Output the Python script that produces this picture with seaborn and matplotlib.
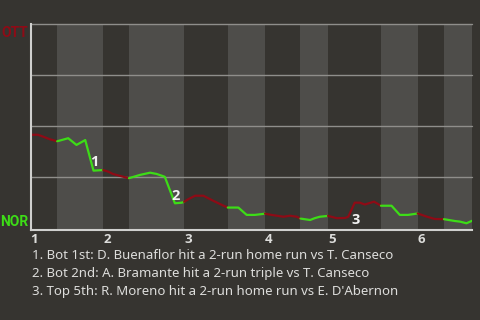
import numpy as np
import pandas as pd
import matplotlib
matplotlib.use("Agg")
import matplotlib.pyplot as plt
import seaborn as sns

# ---- data ----
play_x = [0, 1.6, 2.7, 4.2, 5.8, 8.2, 10.0, 11.9, 13.7, 15.8, 16.9, 17.9, 19.5, 21.4,
          23.8, 26.0, 27.4, 29.2, 31.4, 32.9, 33.4, 34.3, 35.8, 37.6, 39.4, 41.6, 42.9,
          45.2, 47.0, 48.8, 51.0, 52.4, 55.0, 56.4, 57.9, 58.7, 60.8, 61.8, 62.9, 64.7,
          66.6, 68.4, 69.1, 70.5, 71.6, 72.7, 74.7, 76.2, 78.5, 80.3, 82.1, 84.2, 86.1,
          87.9, 89.9, 92.3, 93.4, 94.8, 96.0]
win_prob = [0.457, 0.457, 0.448, 0.435, 0.425, 0.440, 0.407, 0.431, 0.281, 0.284, 0.276,
            0.265, 0.255, 0.244, 0.260, 0.271, 0.265, 0.251, 0.121, 0.124, 0.128, 0.141,
            0.158, 0.158, 0.137, 0.113, 0.100, 0.100, 0.064, 0.064, 0.070, 0.064, 0.055,
            0.060, 0.055, 0.046, 0.039, 0.048, 0.055, 0.059, 0.048, 0.049, 0.055, 0.124,
            0.124, 0.115, 0.129, 0.109, 0.109, 0.064, 0.064, 0.071, 0.056, 0.044, 0.043,
            0.034, 0.031, 0.023, 0.035]
half_bounds = [0, 5.8, 15.8, 21.4, 33.4, 42.9, 51.0, 58.7, 64.7, 76.2, 84.2, 89.9, 96.0]
inning_labels = ["1", "2", "3", "4", "5", "6"]
team_top = "OTT"
team_bottom = "NOR"
score_x = [13.7, 31.4, 70.5]
score_y = [0.281, 0.121, 0.124]
score_labels = ["1", "2", "3"]
notes = [
    "1. Bot 1st: D. Buenaflor hit a 2-run home run vs T. Canseco",
    "2. Bot 2nd: A. Bramante hit a 2-run triple vs T. Canseco",
    "3. Top 5th: R. Moreno hit a 2-run home run vs E. D'Abernon",
]

# ---- style ----
BG = "#363430"
BAND = "#4e4d4a"
RED = "#8e0b16"
GREEN = "#3ddc17"
GRID = "#8f8e8b"
SPINE = "#d0d0ce"
TXT = "#dddddb"
BOLDFONT = ["Open Sans", "DejaVu Sans"]
TEAMFONT = ["Roboto", "DejaVu Sans"]

sns.set_theme(style="dark")
plt.rcParams["font.family"] = ["Noto Sans", "DejaVu Sans"]

fig = plt.figure(figsize=(4.8, 3.2), dpi=100, facecolor=BG)
ax = fig.add_axes([30.5 / 480, 1 - 230 / 320, (472 - 30.5) / 480, (230 - 24) / 320])
ax.set_facecolor(BG)

# bands for bottom half-innings
for i in range(len(half_bounds) - 1):
    if i % 2 == 1:
        ax.axvspan(half_bounds[i], half_bounds[i + 1], color=BAND, lw=0, zorder=0)

# horizontal grid
for g in [0.25, 0.5, 0.75, 1.0]:
    ax.axhline(g, color=GRID, lw=1, zorder=1, clip_on=False)

# build segment table
rows = []
xs = np.array(play_x)
ys = np.array(win_prob)
for i in range(len(half_bounds) - 1):
    m = (xs >= half_bounds[i] - 1e-9) & (xs <= half_bounds[i + 1] + 1e-9)
    for xv, yv in zip(xs[m], ys[m]):
        rows.append({"x": xv, "y": yv, "half": i})
df = pd.DataFrame(rows)
palette = {i: (RED if i % 2 == 0 else GREEN) for i in range(len(half_bounds) - 1)}
sns.lineplot(data=df, x="x", y="y", hue="half", palette=palette, estimator=None,
             sort=False, lw=1.6, legend=False, ax=ax, zorder=3)

# scoring play markers
offsets = [(1, 1.5), (1, 0.5), (1, -10)]
vas = ["bottom", "bottom", "top"]
for sx, sy, lab, off, va in zip(score_x, score_y, score_labels, offsets, vas):
    ax.annotate(lab, (sx, sy), xytext=off, textcoords="offset pixels", ha="center",
                va=va, color="#f2f2f2", fontsize=10.5, fontweight="bold",
                family=BOLDFONT, zorder=5)

ax.set_xlim(0, 96.0)
ax.set_ylim(-0.01, 1.0)
ax.set_xlabel("")
ax.set_ylabel("")
ax.set_yticks([])
ax.set_xticks([half_bounds[i] for i in range(0, len(half_bounds) - 1, 2)])
ax.set_xticklabels(inning_labels, ha="left", color=TXT, fontsize=9.5,
                   fontweight="bold", family=BOLDFONT)
ax.tick_params(axis="x", length=0, pad=2)
ax.grid(False)
for s in ["top", "right"]:
    ax.spines[s].set_visible(False)
for s in ["left", "bottom"]:
    ax.spines[s].set_visible(True)
    ax.spines[s].set_color(SPINE)
    ax.spines[s].set_linewidth(1.5)
    ax.spines[s].set_zorder(4)

fig.text(28.5 / 480, 1 - 26 / 320, team_top, ha="right", va="top",
         color=RED, fontsize=10, fontweight="bold", family=TEAMFONT)
fig.text(28.5 / 480, 1 - 226 / 320, team_bottom, ha="right", va="baseline",
         color=GREEN, fontsize=10, fontweight="bold", family=TEAMFONT)

for k, n in enumerate(notes):
    fig.text(32 / 480, 1 - (259 + 18 * k) / 320, n, ha="left", va="baseline",
             color=TXT, fontsize=9.5)

fig.savefig("out.png", dpi=100, facecolor=BG)
